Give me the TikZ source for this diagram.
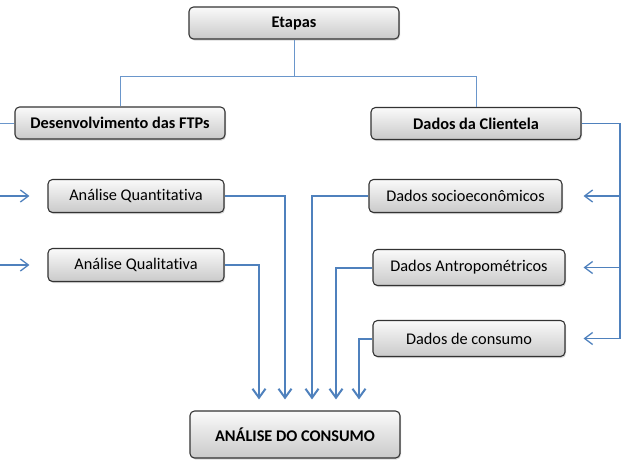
\documentclass[tikz,border=0pt]{standalone}
\usepackage{fontspec}
\setmainfont[Ligatures={NoCommon}]{Carlito}
\usetikzlibrary{arrows.meta,shadows}
\definecolor{lineblue}{HTML}{4F81BD}
\definecolor{treeblue}{HTML}{6A96CB}
\definecolor{boxedge}{HTML}{333333}
\begin{document}
\begin{tikzpicture}[x=1pt,y=-1pt,
  box/.style={draw=boxedge, line width=1.1pt, rounded corners=4.5pt,
    top color=gray!4, bottom color=gray!42,
    drop shadow={opacity=0.3, shadow xshift=1pt, shadow yshift=-1.5pt},
    inner sep=0pt, align=center, font=\fontsize{16.3}{19}\selectfont},
  bbox/.style={box, font=\fontsize{16.3}{19}\selectfont\bfseries},
  tree/.style={treeblue, line width=0.9pt},
  side/.style={lineblue, line width=1.3pt},
  sidearrow/.style={side, -{Straight Barb[length=8pt,width=12pt]}},
  flow/.style={lineblue, line width=2pt, -{Straight Barb[length=9pt,width=13pt]}}]

\useasboundingbox (0,0) rectangle (626,463);

% nodes
\node[bbox, minimum width=210pt, minimum height=32pt] (etapas)  at (294,23)    {Etapas};
\node[bbox, minimum width=210pt, minimum height=32pt] (desenv)  at (120,123)   {Desenvolvimento das FTPs};
\node[bbox, minimum width=210pt, minimum height=32pt] (cliente) at (476,123.5) {Dados da Clientela};

\node[box, minimum width=176pt, minimum height=33pt] (qa) at (136,196) {Análise Quantitativa};
\node[box, minimum width=176pt, minimum height=33pt] (ql) at (136,265) {Análise Qualitativa};

\node[box, minimum width=193pt, minimum height=33pt] (socio) at (465.5,196)  {Dados socioeconômicos};
\node[box, minimum width=192pt, minimum height=36pt] (antro) at (469,267.5)  {Dados Antropométricos};
\node[box, minimum width=192pt, minimum height=36pt] (cons)  at (469,338.5)  {Dados de consumo};

\node[bbox, minimum width=210pt, minimum height=47pt] (analise) at (295,434.5) {ANÁLISE DO CONSUMO};

% side anchors
\coordinate (L) at (0,0);
\coordinate (R) at (620,0);
\coordinate (M) at (0,76);

% tree
\draw[tree] (etapas.south) -- (etapas.south |- M) -| (desenv.north);
\draw[tree] (etapas.south |- M) -| (cliente.north);

% left side
\draw[tree] (desenv.west) -- (L |- desenv.west);
\draw[sidearrow] (L |- qa.west) -- ([xshift=-18pt]qa.west);
\draw[sidearrow] (L |- ql.west) -- ([xshift=-18pt]ql.west);

% right side
\draw[side] (cliente.east) -- (R |- cliente.east) -- (R |- cons.east);
\draw[sidearrow] (R |- socio.east) -- ([xshift=21pt]socio.east);
\draw[sidearrow] (R |- antro.east) -- ([xshift=18pt]antro.east);
\draw[sidearrow] (R |- cons.east) -- ([xshift=18pt]cons.east);

% flows into ANALISE
\draw[flow] (ql.east)    -| ([xshift=-36pt,yshift=11pt]analise.north);
\draw[flow] (qa.east)    -| ([xshift=-10pt,yshift=11pt]analise.north);
\draw[flow] (socio.west) -| ([xshift=17pt,yshift=11pt]analise.north);
\draw[flow] (antro.west) -| ([xshift=41pt,yshift=11pt]analise.north);
\draw[flow] (cons.west)  -| ([xshift=64pt,yshift=11pt]analise.north);
\end{tikzpicture}
\end{document}
